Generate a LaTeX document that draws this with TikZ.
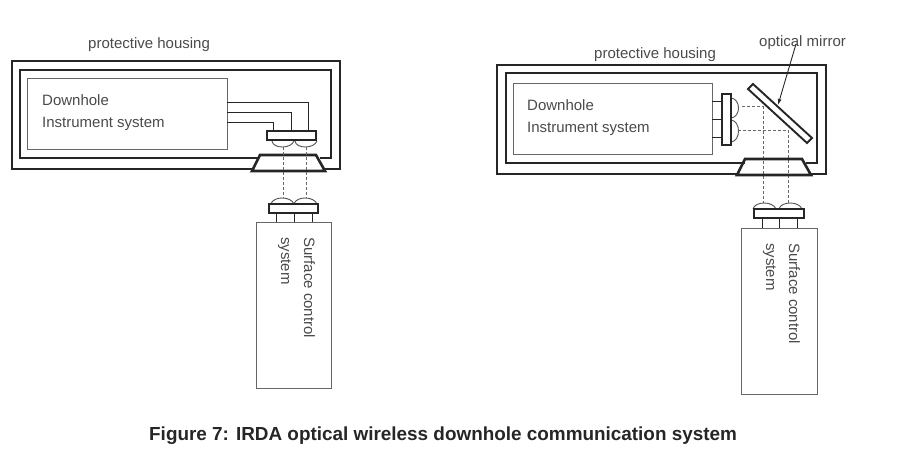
\documentclass[tikz,border=0pt]{standalone}
\usepackage{fontspec}
\setmainfont{Liberation Sans}
\usetikzlibrary{arrows.meta}
\definecolor{ink}{HTML}{262626}
\definecolor{txt}{HTML}{4A4A4A}
\tikzset{
  x=1pt,y=-1pt,
  housing/.style={draw=ink,line width=2pt,line join=miter},
  thin box/.style={draw=ink!70,line width=.9pt,inner sep=0,outer sep=0,anchor=north west},
  panel/.style={draw=ink,line width=2.6pt,fill=white,inner sep=0,outer sep=0,anchor=north west},
  wire/.style={draw=ink,line width=1pt},
  beam/.style={draw=ink!70,line width=.9pt,dash pattern=on 3pt off 2pt},
  lens/.style={draw=ink!80,line width=.9pt,fill=white},
  label text/.style={text=txt,font=\fontsize{15}{18}\selectfont,inner sep=0,anchor=base west},
  port/.style={draw=ink,line width=2.6pt,fill=white,line join=miter},
}
\begin{document}
\begin{tikzpicture}
\useasboundingbox (0,0) rectangle (908,469);
% ---------- left system ----------
\node[label text] (lh) at (88,48) {protective housing};
\coordinate (lo1) at (252,169); \coordinate (lo2) at (325,169);
\draw[housing] (lo1) -- (12,169) -- (12,61) -- (340,61) -- (340,169) -- (lo2);
\coordinate (li1) at (259,158); \coordinate (li2) at (320,158);
\draw[housing] (li1) -- (20,158) -- (20,70) -- (331,70) -- (331,158) -- (li2);
\node[thin box,minimum width=200pt,minimum height=71pt] (linst) at (27,78) {};
\node[label text] (ld) at (42,105) {Downhole};
\node[label text] (li) at (42,127) {Instrument system};
\draw[lens] (272,141) .. controls (273,149) and (291,149) .. (294,141);
\draw[lens] (295,141) .. controls (296,149) and (314,149) .. (317,141);
\node[panel,minimum width=49pt,minimum height=9pt] (lp) at (267,131) {};
\draw[wire] (linst.east |- 0,102) -- (308,102) -- (308,131);
\draw[wire] (linst.east |- 0,112) -- (291,112) -- (291,131);
\draw[wire] (linst.east |- 0,122) -- (273,122) -- (273,131);
\draw[port] (260,155) -- (316,155) -- (325,171) -- (252,171) -- cycle;
\draw[beam] (283,147) -- (283,198);
\draw[beam] (306,147) -- (306,198);
\node[thin box,minimum width=75pt,minimum height=166pt] (ls) at (256,222) {};
\draw[wire] (276,213) -- (276,222);
\draw[wire] (294,213) -- (294,222);
\draw[wire] (312,213) -- (312,222);
\draw[lens] (271,204) .. controls (273,196) and (291,196) .. (294,204);
\draw[lens] (294,204) .. controls (296,196) and (314,196) .. (317,204);
\node[panel,minimum width=49pt,minimum height=9pt] (lq) at (269,204) {};
\node[label text,rotate=-90] (ls1) at (304,237) {Surface control};
\node[label text,rotate=-90] (ls2) at (281,237) {system};
% ---------- right system ----------
\node[label text] (rh) at (594,58) {protective housing};
\node[label text] (rm) at (759,46) {optical mirror};
\coordinate (ro1) at (737,174); \coordinate (ro2) at (811,174);
\draw[housing] (ro1) -- (497,174) -- (497,65) -- (826,65) -- (826,174) -- (ro2);
\coordinate (ri1) at (745,163); \coordinate (ri2) at (806,163);
\draw[housing] (ri1) -- (506,163) -- (506,73) -- (817,73) -- (817,163) -- (ri2);
\node[thin box,minimum width=199pt,minimum height=71pt] (rinst) at (513,83) {};
\node[label text] (rd) at (527,110) {Downhole};
\node[label text] (ri) at (527,132) {Instrument system};
\draw[wire] (rinst.east |- 0,101) -- (722,101);
\draw[wire] (rinst.east |- 0,119) -- (722,119);
\draw[wire] (rinst.east |- 0,137) -- (722,137);
\draw[lens] (731,98) .. controls (741,99) and (741,117) .. (731,118);
\draw[lens] (731,120) .. controls (741,121) and (741,141) .. (731,142);
\node[panel,minimum width=9pt,minimum height=51pt] (rp) at (722,94) {};
\draw[beam] (742,106) -- (763,106);
\draw[beam] (738,130) -- (788,130);
\draw[beam] (763,106) -- (763,203);
\draw[beam] (788,130) -- (788,203);
\draw[draw=ink,line width=1.9pt,fill=white] (748,89) -- (753,84) -- (812,138) -- (807,143) -- cycle;
\draw[port,fill=none] (745,159) -- (802,159) -- (811,175) -- (737,175) -- cycle;
\coordinate (rmf) at (796,44); \coordinate (rmt) at (778,105);
\draw[draw=ink,line width=.9pt,-{Latex[length=6pt,width=4pt]}] (rmf) -- (rmt);
\node[thin box,minimum width=76pt,minimum height=166pt] (rs) at (741,228) {};
\draw[wire] (762,218) -- (762,228);
\draw[wire] (779,218) -- (779,228);
\draw[wire] (797,218) -- (797,228);
\draw[lens] (753,209) .. controls (755,201) and (773,201) .. (776,209);
\draw[lens] (779,209) .. controls (781,201) and (799,201) .. (802,209);
\node[panel,minimum width=50pt,minimum height=9pt] (rq) at (754,209) {};
\node[label text,rotate=-90] (rs1) at (789,243) {Surface control};
\node[label text,rotate=-90] (rs2) at (766,243) {system};
% ---------- caption ----------
\node[text=ink,font=\bfseries\fontsize{18.9}{22}\selectfont,inner sep=0,anchor=base west] (cap) at (149,440) {Figure 7: IRDA optical wireless downhole communication system};
\end{tikzpicture}
\end{document}
